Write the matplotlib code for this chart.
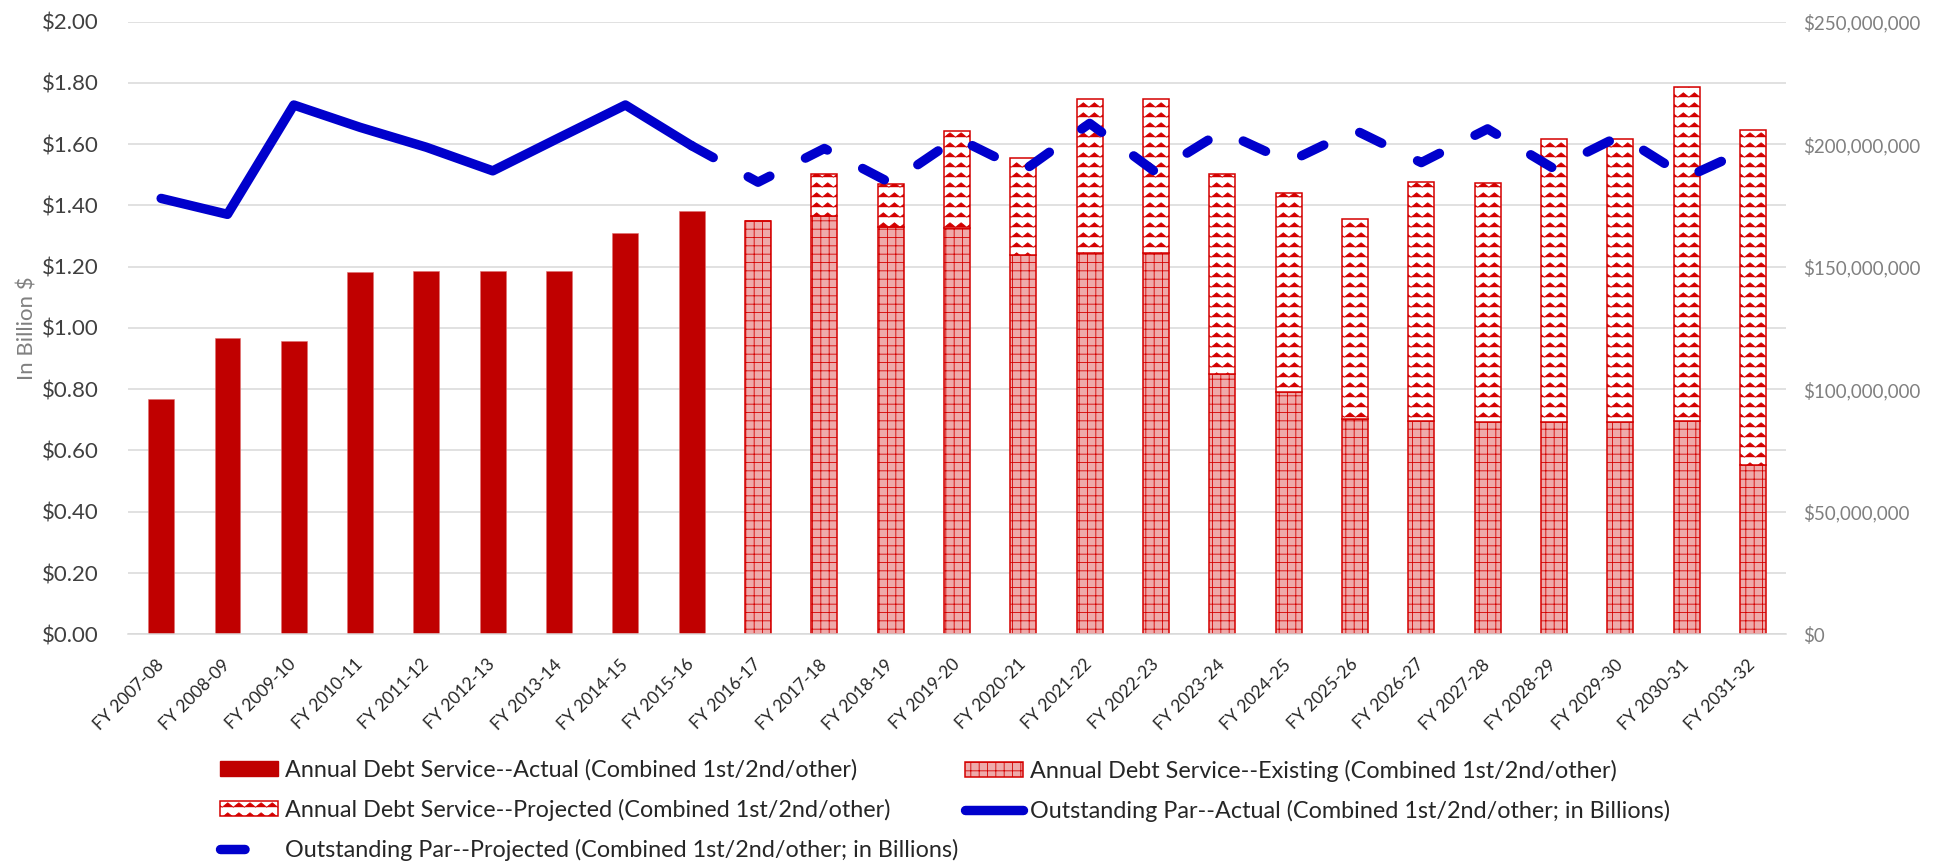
import warnings
import numpy as np
import matplotlib
matplotlib.use("Agg")
import matplotlib.pyplot as plt
import matplotlib.hatch as mhatch
from matplotlib.path import Path
from matplotlib.patches import Patch
from matplotlib.lines import Line2D
from matplotlib.ticker import FuncFormatter

# custom hatch chars trigger a deprecation warning only
warnings.filterwarnings("ignore")

# =====================================================
# Data
# =====================================================
years = [
    "FY 2007-08", "FY 2008-09", "FY 2009-10", "FY 2010-11", "FY 2011-12",
    "FY 2012-13", "FY 2013-14", "FY 2014-15", "FY 2015-16", "FY 2016-17",
    "FY 2017-18", "FY 2018-19", "FY 2019-20", "FY 2020-21", "FY 2021-22",
    "FY 2022-23", "FY 2023-24", "FY 2024-25", "FY 2025-26", "FY 2026-27",
    "FY 2027-28", "FY 2028-29", "FY 2029-30", "FY 2030-31", "FY 2031-32",
]

# annual debt service, $ millions (right axis)
ds_actual = [96.1, 120.8, 119.6, 147.8, 148.1, 148.3, 148.3, 163.8, 172.6]
ds_existing = [168.6, 170.5, 166.4, 165.6, 154.8, 155.5, 155.5, 106.4,
               98.9, 87.9, 86.9, 86.5, 86.5, 86.5, 86.9, 69.0]
ds_projected = [0.0, 17.5, 17.5, 39.6, 39.5, 62.9, 62.9, 81.5,
                81.3, 81.5, 97.8, 97.8, 115.5, 115.5, 136.4, 136.8]

# outstanding par, $ billions (left axis)
par_actual = [1.423, 1.371, 1.728, 1.655, 1.590, 1.513, 1.621, 1.728, 1.595]
# projected series starts at FY 2015-16
par_projected = [1.595, 1.476, 1.586, 1.473, 1.620, 1.513, 1.668, 1.508,
                 1.642, 1.542, 1.646, 1.540, 1.650, 1.520, 1.628, 1.492, 1.591]

labels = [
    "Annual Debt Service--Actual (Combined 1st/2nd/other)",
    "Annual Debt Service--Existing (Combined 1st/2nd/other)",
    "Annual Debt Service--Projected (Combined 1st/2nd/other)",
    "Outstanding Par--Actual (Combined 1st/2nd/other; in Billions)",
    "Outstanding Par--Projected (Combined 1st/2nd/other; in Billions)",
]


# -----------------------------------------------------
# Wave hatch ("z") to mimic the Excel zigzag fill
# -----------------------------------------------------
class ZigZagHatch(mhatch.HatchPatternBase):
    def __init__(self, hatch, density):
        self.num_rows = int(hatch.count("z") * density * 10 / 6)
        self.teeth = 9
        self.num_vertices = self.num_rows * (2 * self.teeth + 1)

    def set_vertices_and_codes(self, vertices, codes):
        n = 2 * self.teeth + 1
        xs = np.linspace(0.0, 1.0, n)
        bump = np.where(np.arange(n) % 2 == 0, -0.022, 0.022)
        for i in range(self.num_rows):
            y0 = (i + 0.5) / self.num_rows
            vertices[i * n:(i + 1) * n, 0] = xs
            vertices[i * n:(i + 1) * n, 1] = y0 + bump
            codes[i * n] = Path.MOVETO
            codes[i * n + 1:(i + 1) * n] = Path.LINETO


mhatch._hatch_types.append(ZigZagHatch)

# -----------------------------------------------------
# Style
# -----------------------------------------------------
plt.rcParams["font.family"] = ["Lato", "DejaVu Sans"]
plt.rcParams["hatch.linewidth"] = 0.6

RED_DARK = "#c00000"
RED = "#d40000"
PINK = "#eeaaaa"
BLUE = "#0000cc"
GRID = "#d9d9d9"

LW_PAR = 6.8
DASH = (0, (2.6, 4.22))

fig = plt.figure(figsize=(19.42, 8.64), dpi=100)
ax = fig.add_axes([0.0659, 0.2659, 0.8538, 0.709])
ax2 = ax.twinx()

# line axis in front, bar axis behind
ax.set_zorder(ax2.get_zorder() + 1)
ax.patch.set_visible(False)

x = np.arange(len(years))
n_act = len(ds_actual)
x_act = x[:n_act]
x_fut = x[n_act:]
bw = 0.39

existing = np.array(ds_existing) * 1e6
projected = np.array(ds_projected) * 1e6

ax2.bar(x_act, np.array(ds_actual) * 1e6, width=bw, color=RED_DARK,
        edgecolor="#e07070", linewidth=0.4)
ax2.bar(x_fut, existing, width=bw, facecolor=PINK, edgecolor=RED,
        hatch="++", linewidth=1.1)
ax2.bar(x_fut, projected, bottom=existing, width=bw, facecolor="white",
        edgecolor=RED, hatch="z", linewidth=1.1)

ax.plot(x[n_act - 1:], par_projected, color=BLUE, lw=LW_PAR, ls=DASH,
        dash_capstyle="round", dash_joinstyle="round")
ax.plot(x_act, par_actual, color=BLUE, lw=LW_PAR,
        solid_capstyle="round", solid_joinstyle="round")

# -----------------------------------------------------
# Axes
# -----------------------------------------------------
ax.set_xlim(-0.5, len(years) - 0.5)
ax.set_ylim(0, 2.0)
ax.set_yticks(np.arange(0, 2.01, 0.2))
ax.yaxis.set_major_formatter(FuncFormatter(lambda v, p: f"${v:.2f}"))
ax.tick_params(axis="y", length=0, pad=21, labelsize=16, labelcolor="#404040")

ax.set_xticks(x)
ax.set_xticklabels(years, rotation=45, ha="right", va="center",
                   rotation_mode="anchor", fontsize=12.5, color="#262626")
ax.tick_params(axis="x", length=0, pad=20)

ax.set_ylabel("In Billion $", fontsize=16, color="#808080", labelpad=3)

ax2.set_ylim(0, 250e6)
ax2.set_yticks(np.arange(0, 250e6 + 1, 50e6))
ax2.set_yticks(np.arange(25e6, 250e6, 50e6), minor=True)
ax2.yaxis.set_major_formatter(FuncFormatter(lambda v, p: f"${v:,.0f}"))
ax2.tick_params(axis="y", which="both", length=0, pad=12, labelsize=13.5,
                labelcolor="#808080")
ax2.set_axisbelow(True)
ax2.grid(axis="y", which="both", color=GRID, linewidth=1.1)

for s in ax.spines.values():
    s.set_visible(False)
for s in ax2.spines.values():
    s.set_visible(False)
ax2.spines["bottom"].set_visible(True)
ax2.spines["bottom"].set_color(GRID)
ax2.spines["bottom"].set_linewidth(1.1)

# -----------------------------------------------------
# Legend (two fixed columns like the Excel layout)
# -----------------------------------------------------
h_actual = Patch(facecolor=RED_DARK, edgecolor=RED_DARK)
h_exist = Patch(facecolor=PINK, edgecolor=RED, hatch="++", linewidth=1.1)
h_proj = Patch(facecolor="white", edgecolor=RED, hatch="z", linewidth=1.1)
h_par_a = Line2D([], [], color=BLUE, lw=LW_PAR, solid_capstyle="round")
h_par_p = Line2D([], [], color=BLUE, lw=LW_PAR, ls=DASH,
                 dash_capstyle="round")

leg_kw = dict(loc="upper left", frameon=False, fontsize=16.8, handlelength=2.5,
              handleheight=0.6, handletextpad=0.3, labelspacing=0.77,
              borderpad=0, borderaxespad=0)
leg1 = fig.legend([h_actual, h_proj, h_par_p],
                  [labels[0], labels[2], labels[4]],
                  bbox_to_anchor=(220 / 1942, 0.121), **leg_kw)
leg2 = fig.legend([h_exist, h_par_a], [labels[1], labels[3]],
                  bbox_to_anchor=(965 / 1942, 0.121), **leg_kw)
for leg in (leg1, leg2):
    for t in leg.get_texts():
        t.set_color("#262626")

fig.savefig("out.png", dpi=100)
